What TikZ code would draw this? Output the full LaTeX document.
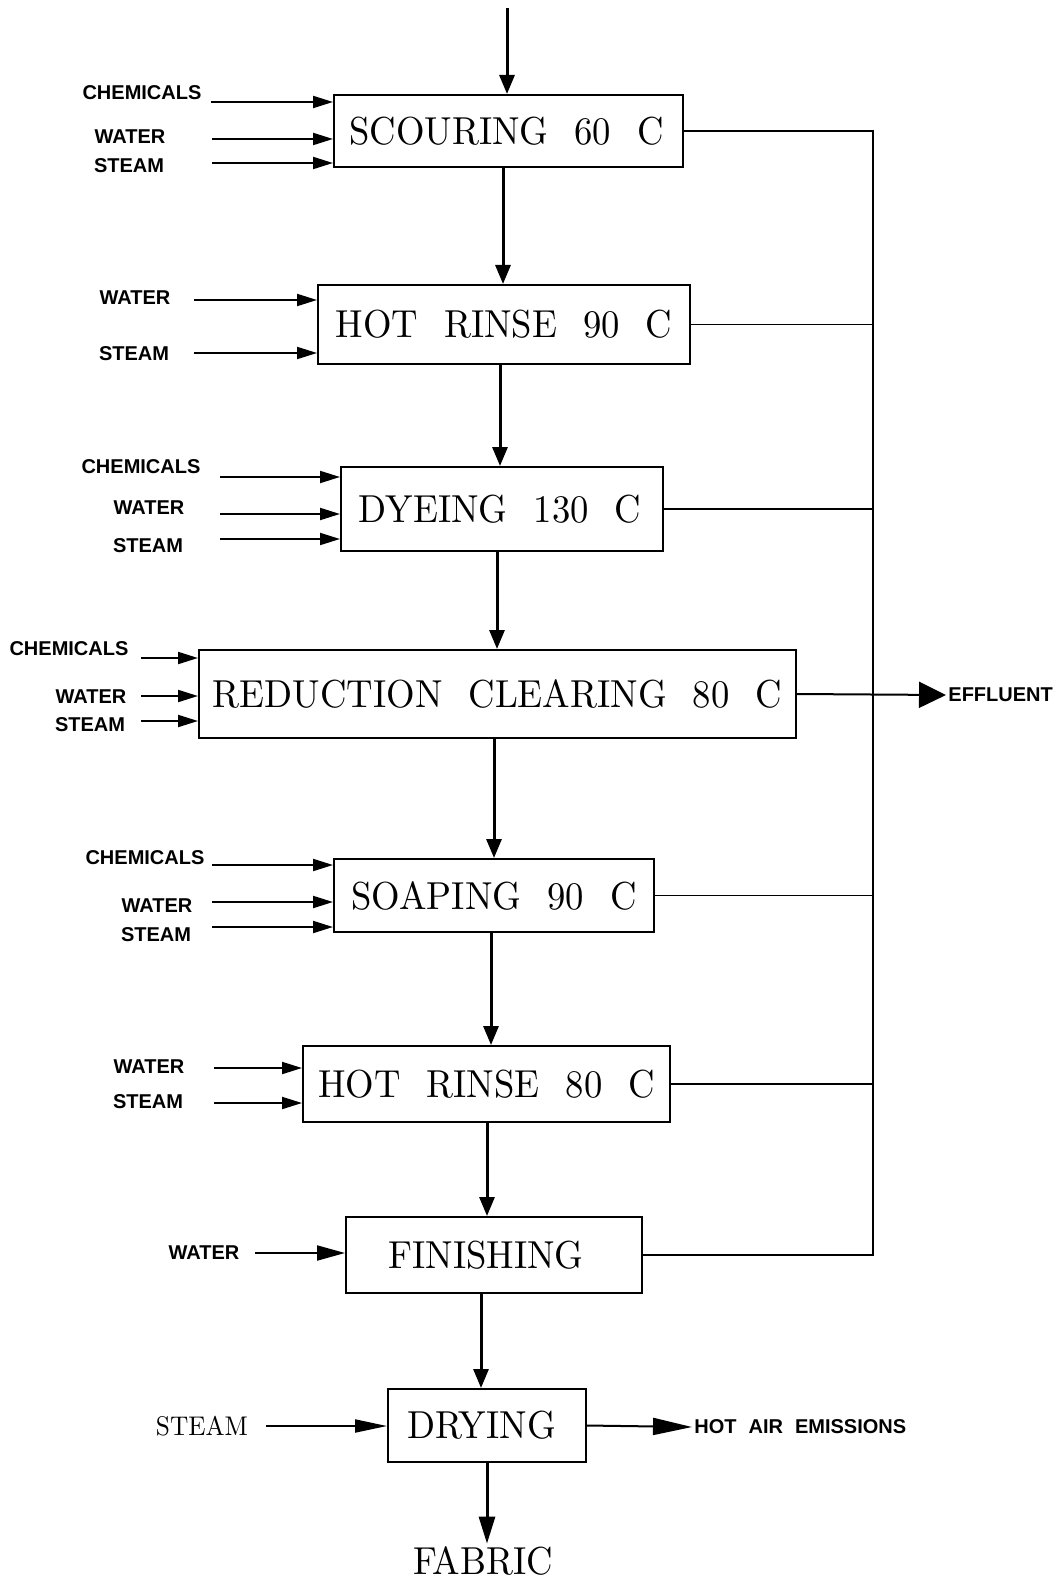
\documentclass[tikz,border=0pt]{standalone}
\usepackage{fontspec}
\usetikzlibrary{arrows.meta}
\newfontfamily\boxfont[Extension=.otf,FakeStretch=0.94]{lmroman10-regular}
\newfontfamily\labfont{Liberation Sans}
\newcommand\wgap{\hspace{13pt}}
\tikzset{
  box/.style={draw, line width=1pt, inner sep=0pt, font=\boxfont\fontsize{19.5pt}{22pt}\selectfont},
  lab/.style={font=\labfont\bfseries\fontsize{10pt}{12pt}\selectfont, inner sep=1pt},
  serif/.style={font=\boxfont\fontsize{13.5pt}{16pt}\selectfont, inner sep=1pt},
  feed/.style={line width=1pt, -{Triangle[length=10pt,width=6pt]}},
  feedbig/.style={line width=1pt, -{Triangle[length=14pt,width=7.5pt]}},
  mainflow/.style={line width=1.5pt, -{Triangle[length=9.5pt,width=7.5pt]}},
  drain/.style={line width=0.9pt},
}
\begin{document}
\begin{tikzpicture}[x=0.5pt,y=-0.5pt]
\useasboundingbox (0,0) rectangle (1056,1583);
% process boxes
\node[box, minimum width=174.5pt, minimum height=36pt] (scour) at (508.5,131) {SCOURING\wgap 60\wgap C\kern2pt};
\node[box, minimum width=186pt, minimum height=39.5pt] (rinseA) at (504,324.5) {HOT\wgap RINSE\wgap 90\wgap C};
\node[box, minimum width=161pt, minimum height=42pt] (dye) at (502,509) {DYEING\wgap 130\wgap C\kern2pt};
\node[box, minimum width=298.5pt, minimum height=44pt] (reduc) at (497.5,694) {REDUCTION\wgap CLEARING\wgap 80\wgap C};
\node[box, minimum width=160pt, minimum height=36.5pt] (soap) at (494,895.5) {SOAPING\wgap 90\wgap C};
\node[box, minimum width=183.5pt, minimum height=38pt] (rinseB) at (486.5,1084) {HOT\wgap RINSE\wgap 80\wgap C};
\node[box, minimum width=148pt, minimum height=38pt] (finish) at (494,1255) {FINISHING\kern8pt};
\node[box, minimum width=99pt, minimum height=36.5pt] (dry) at (487,1425.5) {DRYING\kern5.5pt};
% outputs
\node[lab, anchor=west] (effl) at (946,695) {EFFLUENT};
\node[lab, anchor=west] (hotair) at (692,1427) {HOT\hspace{6pt}AIR\hspace{6pt}EMISSIONS};
\node[box, draw=none, inner sep=1pt, font=\boxfont\fontsize{19.5pt}{22pt}\selectfont] (fabric) at (483,1561) {FABRIC};
% main flow
\coordinate (start) at (507,8);
\coordinate (xa) at (503,0);
\coordinate (xb) at (500,0);
\coordinate (xc) at (497,0);
\coordinate (xd) at (494,0);
\coordinate (xe) at (491,0);
\coordinate (xf) at (487,0);
\coordinate (xg) at (481,0);
\coordinate (xh) at (487,0);
\draw[mainflow] (start) -- (start |- scour.north);
\draw[mainflow] (scour.south -| xa) -- (rinseA.north -| xa);
\draw[mainflow] (rinseA.south -| xb) -- (dye.north -| xb);
\draw[mainflow] (dye.south -| xc) -- (reduc.north -| xc);
\draw[mainflow] (reduc.south -| xd) -- (soap.north -| xd);
\draw[mainflow] (soap.south -| xe) -- (rinseB.north -| xe);
\draw[mainflow] (rinseB.south -| xf) -- (finish.north -| xf);
\draw[mainflow] (finish.south -| xg) -- (dry.north -| xg);
\draw[line width=1.5pt, -{Triangle[length=13.5pt,width=8pt]}] (dry.south -| xh) -- (fabric.north -| xh);
% effluent collector
\coordinate (ctop) at (873,131);
\coordinate (cbot) at (873,1255);
\draw[drain] (scour.east) -- (ctop) -- (cbot) -- (finish.east);
\draw[drain] (rinseA.east) -- (rinseA.east -| ctop);
\draw[drain] (dye.east) -- (dye.east -| ctop);
\draw[drain] (soap.east) -- (soap.east -| ctop);
\draw[drain] (rinseB.east) -- (rinseB.east -| ctop);
\draw[line width=1pt, -{Triangle[length=13.5pt,width=13pt]}] (reduc.east) -- (effl.west);
\draw[line width=1pt, -{Triangle[length=19.5pt,width=8.5pt]}] (dry.east) -- (hotair.west);
% inputs: scouring
\node[lab] (l1a) at (142,93) {CHEMICALS};
\node[lab] (l1b) at (130,137) {WATER};
\node[lab] (l1c) at (129,166) {STEAM};
\coordinate (s1a) at (211,102);
\coordinate (s1b) at (212,139);
\coordinate (s1c) at (212,163);
\draw[feed] (s1a) -- (s1a -| scour.west);
\draw[feed] (s1b) -- (s1b -| scour.west);
\draw[feed] (s1c) -- (s1c -| scour.west);
% inputs: hot rinse 90
\node[lab] (l2a) at (135,298) {WATER};
\node[lab] (l2b) at (134,354) {STEAM};
\coordinate (s2a) at (194,300);
\coordinate (s2b) at (194,353);
\draw[feed] (s2a) -- (s2a -| rinseA.west);
\draw[feed] (s2b) -- (s2b -| rinseA.west);
% inputs: dyeing
\node[lab] (l3a) at (141,467) {CHEMICALS};
\node[lab] (l3b) at (149,508) {WATER};
\node[lab] (l3c) at (148,546) {STEAM};
\coordinate (s3a) at (220,477);
\coordinate (s3b) at (220,514);
\coordinate (s3c) at (220,539);
\draw[feed] (s3a) -- (s3a -| dye.west);
\draw[feed] (s3b) -- (s3b -| dye.west);
\draw[feed] (s3c) -- (s3c -| dye.west);
% inputs: reduction clearing
\node[lab] (l4a) at (69,649) {CHEMICALS};
\node[lab] (l4b) at (91,697) {WATER};
\node[lab] (l4c) at (90,725) {STEAM};
\coordinate (s4a) at (141,658);
\coordinate (s4b) at (141,696);
\coordinate (s4c) at (141,721);
\draw[feed] (s4a) -- (s4a -| reduc.west);
\draw[feed] (s4b) -- (s4b -| reduc.west);
\draw[feed] (s4c) -- (s4c -| reduc.west);
% inputs: soaping
\node[lab] (l5a) at (145,858) {CHEMICALS};
\node[lab] (l5b) at (157,906) {WATER};
\node[lab] (l5c) at (156,935) {STEAM};
\coordinate (s5a) at (212,865);
\coordinate (s5b) at (212,902);
\coordinate (s5c) at (212,927);
\draw[feed] (s5a) -- (s5a -| soap.west);
\draw[feed] (s5b) -- (s5b -| soap.west);
\draw[feed] (s5c) -- (s5c -| soap.west);
% inputs: hot rinse 80
\node[lab] (l6a) at (149,1067) {WATER};
\node[lab] (l6b) at (148,1102) {STEAM};
\coordinate (s6a) at (214,1068);
\coordinate (s6b) at (214,1103);
\draw[feed] (s6a) -- (s6a -| rinseB.west);
\draw[feed] (s6b) -- (s6b -| rinseB.west);
% inputs: finishing
\node[lab] (l7a) at (204,1253) {WATER};
\coordinate (s7a) at (255,1253);
\draw[feedbig] (s7a) -- (s7a -| finish.west);
% inputs: drying
\node[serif] (l8a) at (202,1426) {STEAM};
\coordinate (s8a) at (266,1426);
\draw[line width=1pt, -{Triangle[length=16pt,width=6.5pt]}] (s8a) -- (s8a -| dry.west);
\end{tikzpicture}
\end{document}
